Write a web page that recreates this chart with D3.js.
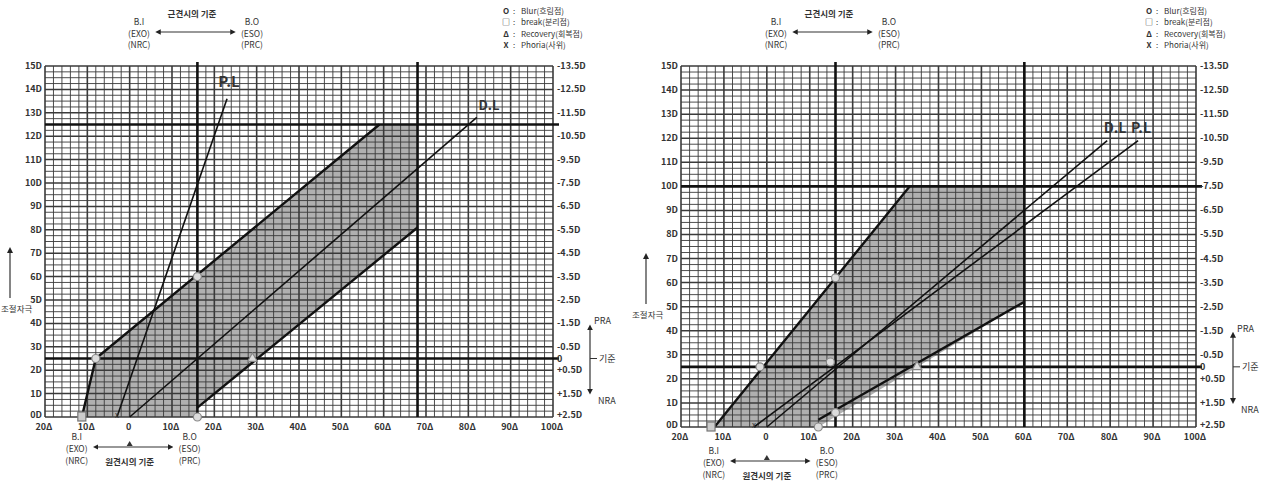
<!DOCTYPE html>
<html>
<head>
<meta charset="utf-8">
<script src="https://cdn.jsdelivr.net/npm/d3@7"></script>
<style>
  body { margin: 0; background: #fff; }
  text { font-family: "Noto Sans CJK KR", "DejaVu Sans", sans-serif; fill: #333; }
</style>
</head>
<body>
<svg id="chart" width="1274" height="485"></svg>
<script>
// tick values / labels (shared by both graphs)
var xTicks = [-20, -10, 0, 10, 20, 30, 40, 50, 60, 70, 80, 90, 100];
var xLabels = ["20Δ", "10Δ", "0", "10Δ", "20Δ", "30Δ", "40Δ", "50Δ", "60Δ", "70Δ", "80Δ", "90Δ", "100Δ"];
var yTicks = [0, 1, 2, 3, 4, 5, 6, 7, 8, 9, 10, 11, 12, 13, 14, 15];
var yLabels = ["0D", "1D", "2D", "3D", "4D", "5D", "6D", "7D", "8D", "9D", "10D", "11D", "12D", "13D", "14D", "15D"];
var rTicks = [0, 1, 2, 2.5, 3, 4, 5, 6, 7, 8, 9, 10, 11, 12, 13, 14, 15];
var rLabels = ["+2.5D", "+1.5D", "+0.5D", "0", "-0.5D", "-1.5D", "-2.5D", "-3.5D", "-4.5D", "-5.5D", "-6.5D", "-7.5D", "-9.5D", "-10.5D", "-11.5D", "-12.5D", "-13.5D"];

var legendSyms = ["O", "□", "Δ", "X"];
var legendText = ["Blur(흐림점)", "break(분리점)", "Recovery(회복점)", "Phoria(사위)"];

// graph 1 (left)
var zone1 = [[-11.3, 0], [-8, 2.5], [59, 12.5], [68, 12.5], [68, 8.1], [16, 0.4], [16, 0]];
var biLine1 = [[-11.3, 0], [-8, 2.5], [59, 12.5]];
var boLine1 = [[16, 0.4], [68, 8.1]];
var dl1 = [[0, 0], [82, 12.8]];
var pl1 = [[-3, 0], [23, 13.6]];
var vThick1 = [16, 68];
var hThick1 = [2.5, 12.5];
var blur1 = [[-8, 2.5], [16, 6], [16, 0]];
var break1 = [[-11.3, 0]];
var recov1 = [[29, 2.5]];
var phoria1 = [[-3, 0]];

// graph 2 (right)
var zone2 = [[-12.2, 0], [33.3, 10], [60, 10], [60, 5.2], [12, 0]];
var biLine2 = [[-12.2, 0], [33.3, 10]];
var boLine2 = [[12, 0.3], [60, 5.2]];
var dl2 = [[0, 0], [79.3, 11.9]];
var pl2 = [[-3, 0], [86.5, 11.9]];
var vThick2 = [16, 60];
var hThick2 = [2.5, 10];
var blur2 = [[-1.6, 2.5], [16, 6.2], [12, 0], [16, 0.6], [14.8, 2.7]];
var break2 = [[-13, 0]];
var recov2 = [[35, 2.5]];
var phoria2 = [[-3, 0]];

var svg = d3.select("#chart");

function drawChart(svg, o) {
  var x = d3.scaleLinear().domain([-20, 100]).range([o.left, o.right]);
  var y = d3.scaleLinear().domain([0, 15]).range([o.bottom, o.top]);
  var g = svg.append("g");
  var line = d3.line().x(function(d){ return x(d[0]); }).y(function(d){ return y(d[1]); });

  // shaded zone under the grid
  g.append("path")
    .attr("d", line(o.zone) + "Z")
    .attr("fill", "#b0b0b0");

  // minor grid: every 2 prism, every 0.25 D
  g.append("g").selectAll("line")
    .data(d3.range(-20, 101, 2))
    .enter().append("line")
      .attr("x1", function(d){ return x(d); }).attr("x2", function(d){ return x(d); })
      .attr("y1", y(15)).attr("y2", y(0))
      .attr("stroke", "#3a3a3a")
      .attr("stroke-width", function(d){ return d % 10 == 0 ? 1.6 : 0.9; });
  g.append("g").selectAll("line")
    .data(d3.range(0, 15.01, 0.25))
    .enter().append("line")
      .attr("x1", x(-20)).attr("x2", x(100))
      .attr("y1", function(d){ return y(d); }).attr("y2", function(d){ return y(d); })
      .attr("stroke", "#3a3a3a")
      .attr("stroke-width", function(d){ return d % 1 == 0 ? 1.5 : 0.9; });

  // heavy reference lines
  g.append("g").selectAll("line")
    .data(o.vThick)
    .enter().append("line")
      .attr("x1", function(d){ return x(d); }).attr("x2", function(d){ return x(d); })
      .attr("y1", y(15) - 4).attr("y2", y(0))
      .attr("stroke", "#111").attr("stroke-width", 2.6);
  g.append("g").selectAll("line")
    .data(o.hThick)
    .enter().append("line")
      .attr("x1", x(-20)).attr("x2", x(100) + 6)
      .attr("y1", function(d){ return y(d); }).attr("y2", function(d){ return y(d); })
      .attr("stroke", "#111").attr("stroke-width", 2.6);

  // zone borders, demand line, phoria line
  [o.bi, o.bo].forEach(function(p){
    g.append("path").attr("d", line(p)).attr("fill", "none")
      .attr("stroke", "#111").attr("stroke-width", 2.4);
  });
  [o.dl, o.pl].forEach(function(p){
    g.append("path").attr("d", line(p)).attr("fill", "none")
      .attr("stroke", "#111").attr("stroke-width", 1.6);
  });

  // markers
  g.selectAll(".blur").data(o.blur).enter().append("circle")
    .attr("cx", function(d){ return x(d[0]); }).attr("cy", function(d){ return y(d[1]); })
    .attr("r", 4).attr("fill", "#ddd").attr("stroke", "#888").attr("stroke-width", 1.2);
  g.selectAll(".brk").data(o.brk).enter().append("rect")
    .attr("x", function(d){ return x(d[0]) - 4; }).attr("y", function(d){ return y(d[1]) - 5; })
    .attr("width", 8).attr("height", 9).attr("fill", "#ccc").attr("stroke", "#777").attr("stroke-width", 1.2);
  g.selectAll(".rec").data(o.rec).enter().append("path")
    .attr("transform", function(d){ return "translate(" + x(d[0]) + "," + y(d[1]) + ")"; })
    .attr("d", d3.symbol(d3.symbolTriangle, 40))
    .attr("fill", "#ddd").attr("stroke", "#888").attr("stroke-width", 1.2);
  g.selectAll(".pho").data(o.pho).enter().append("text")
    .attr("x", function(d){ return x(d[0]); }).attr("y", function(d){ return y(d[1]) + 1; })
    .attr("text-anchor", "middle").attr("font-size", 8).text("x");

  // axes
  var ax = g.append("g").attr("font-size", 9).attr("font-weight", "bold");
  ax.selectAll(".xl").data(xTicks).enter().append("text")
    .attr("x", function(d){ return x(d) - 1; }).attr("y", y(0) + 13)
    .attr("text-anchor", "middle").text(function(d, i){ return xLabels[i]; });
  ax.selectAll(".yl").data(yTicks).enter().append("text")
    .attr("x", x(-20) - 3).attr("y", function(d){ return y(d) + (d == 0 ? 1 : 3); })
    .attr("text-anchor", "end").text(function(d, i){ return yLabels[i]; });
  ax.selectAll(".rl").data(rTicks).enter().append("text")
    .attr("x", x(100) + 4).attr("y", function(d){ return y(d) + (d == 0 ? 1 : 3); })
    .text(function(d, i){ return (rLabels[i].charAt(0) == "-" ? "" : " ") + rLabels[i]; });

  // line names
  o.names.forEach(function(n){
    g.append("text").attr("x", n.x).attr("y", n.y).attr("font-size", n.s)
      .attr("font-weight", "bold").attr("fill", "#222").attr("text-anchor", "middle").text(n.t);
  });

  // PRA / NRA arrow on the right
  var ra = x(100) + 37;
  g.append("line").attr("x1", ra).attr("x2", ra).attr("y1", y(4) + 4).attr("y2", y(1) - 2)
    .attr("stroke", "#333").attr("stroke-width", 1.2)
    .attr("marker-start", "url(#ah)").attr("marker-end", "url(#ah)");
  g.append("line").attr("x1", ra).attr("x2", ra + 7).attr("y1", y(2.5)).attr("y2", y(2.5))
    .attr("stroke", "#333");
  var ann = g.append("g").attr("font-size", 9);
  ann.append("text").attr("x", ra + 4).attr("y", y(4) + 1).text("PRA");
  ann.append("text").attr("x", ra + 9).attr("y", y(2.5) + 3).text("기준");
  ann.append("text").attr("x", ra + 8).attr("y", y(0.7) + 3).text("NRA");

  // accommodative stimulus arrow on the left
  var la = x(-20) - 35;
  g.append("line").attr("x1", la).attr("x2", la).attr("y1", o.stimY - 14).attr("y2", o.stimY - 62)
    .attr("stroke", "#333").attr("stroke-width", 1.2).attr("marker-end", "url(#ah)");
  ann.append("text").attr("x", Math.max(1, x(-20) - 49)).attr("y", o.stimY)
    .attr("font-size", 8.5).text("조절자극");

  // near reference (top) and far reference (bottom)
  var t = g.append("g").attr("font-size", 8.5).attr("text-anchor", "middle");
  function refBlock(cx, ty, dy, ay, title, titleY, tick) {
    ["B.I", "(EXO)", "(NRC)"].forEach(function(s, i){
      t.append("text").attr("x", cx - 53).attr("y", ty + i * dy).text(s);
    });
    ["B.O", "(ESO)", "(PRC)"].forEach(function(s, i){
      t.append("text").attr("x", cx + 60).attr("y", ty + i * dy).text(s);
    });
    g.append("line").attr("x1", cx - 34).attr("x2", cx + 41).attr("y1", ay).attr("y2", ay)
      .attr("stroke", "#333").attr("stroke-width", 1.1)
      .attr("marker-start", "url(#ah)").attr("marker-end", "url(#ah)");
    if (tick) {
      g.append("path").attr("d", "M" + (cx - 3) + "," + (ay - 1) + "l3,-5l3,5z").attr("fill", "#333");
    }
    t.append("text").attr("x", cx).attr("y", titleY).attr("font-weight", "bold").text(title);
  }
  refBlock(o.nearX, 25, 11.5, 32, "근견시의 기준", 17, false);
  refBlock(x(0), o.farY, 12, o.farY + 7, "원견시의 기준", o.farY + 25, true);

  // legend
  var lg = g.append("g").attr("font-size", 8);
  legendSyms.forEach(function(s, i){
    lg.append("text").attr("x", o.legX).attr("y", 14 + i * 11.3).attr("text-anchor", "middle")
      .attr("font-weight", "bold").text(s);
    lg.append("text").attr("x", o.legX + 7).attr("y", 14 + i * 11.3).text(":");
    lg.append("text").attr("x", o.legX + 15).attr("y", 14 + i * 11.3).text(legendText[i]);
  });
}

svg.append("defs").append("marker")
  .attr("id", "ah").attr("viewBox", "0 0 10 10").attr("refX", 5).attr("refY", 5)
  .attr("markerWidth", 5).attr("markerHeight", 5).attr("orient", "auto-start-reverse")
  .append("path").attr("d", "M0,0L10,5L0,10z").attr("fill", "#222");

drawChart(svg, {
  left: 45, right: 553, top: 66, bottom: 417,
  zone: zone1, bi: biLine1, bo: boLine1, dl: dl1, pl: pl1,
  vThick: vThick1, hThick: hThick1,
  blur: blur1, brk: break1, rec: recov1, pho: phoria1,
  names: [{t: "P.L", x: 229, y: 87, s: 15}, {t: "D.L", x: 489, y: 110, s: 13}],
  stimY: 312, nearX: 192, farY: 440, legX: 506
});

drawChart(svg, {
  left: 681, right: 1196, top: 66, bottom: 427,
  zone: zone2, bi: biLine2, bo: boLine2, dl: dl2, pl: pl2,
  vThick: vThick2, hThick: hThick2,
  blur: blur2, brk: break2, rec: recov2, pho: phoria2,
  names: [{t: "D.L", x: 1115, y: 133, s: 14}, {t: "P.L", x: 1141, y: 133, s: 14}],
  stimY: 318, nearX: 829, farY: 454, legX: 1149
});
</script>
</body>
</html>
